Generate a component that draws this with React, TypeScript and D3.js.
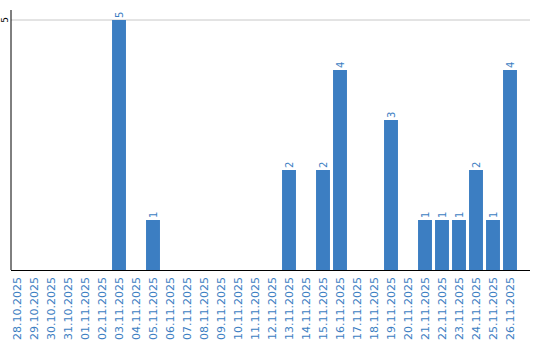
import React from "react";
import * as d3 from "d3";

const dates = [
  "28.10.2025","29.10.2025","30.10.2025","31.10.2025","01.11.2025","02.11.2025",
  "03.11.2025","04.11.2025","05.11.2025","06.11.2025","07.11.2025","08.11.2025",
  "09.11.2025","10.11.2025","11.11.2025","12.11.2025","13.11.2025","14.11.2025",
  "15.11.2025","16.11.2025","17.11.2025","18.11.2025","19.11.2025","20.11.2025",
  "21.11.2025","22.11.2025","23.11.2025","24.11.2025","25.11.2025","26.11.2025",
];
const counts = [0,0,0,0,0,0,5,0,1,0,0,0,0,0,0,0,2,0,2,4,0,0,3,0,1,1,1,2,1,4];
const yTicks = [5];

const W = 540, H = 340;
const axisLeft = 11, axisRight = 530;
const top = 20, bottom = 270;
const blue = "#3c7ec2";
const font = "'DejaVu Sans', Verdana, sans-serif";

export default function App() {
  const x = d3.scaleBand<string>().domain(dates).range([8.5, 518.5]).paddingInner(0.18).paddingOuter(0.09);
  const y = d3.scaleLinear().domain([0, 5]).range([bottom, top]);
  return (
    <svg width={W} height={H} style={{ position: "absolute", left: 0, top: 0 }}>
      <rect width={W} height={H} fill="#fff" />
      {yTicks.map((t) => (
        <g key={t}>
          <line x1={axisLeft} x2={axisRight} y1={y(t)} y2={y(t)} stroke="#c8c8c8" strokeWidth={1} />
          <text transform={`translate(8,${y(t)}) rotate(-90)`} textAnchor="middle" fontSize={9} fontFamily={font} fill="#000">{t}</text>
        </g>
      ))}
      {dates.map((d, i) =>
        counts[i] > 0 ? (
          <g key={d}>
            <rect x={x(d)} y={y(counts[i])} width={x.bandwidth()} height={bottom - y(counts[i])} fill={blue} />
            <text transform={`translate(${(x(d) as number) + x.bandwidth() / 2 + 3.5},${y(counts[i]) - 2}) rotate(-90)`} fontSize={10} fontFamily={font} fill={blue}>{counts[i]}</text>
          </g>
        ) : null
      )}
      <line x1={axisLeft} x2={axisLeft} y1={10} y2={bottom} stroke="#000" strokeWidth={1} />
      <line x1={axisLeft} x2={axisRight} y1={bottom + 0.5} y2={bottom + 0.5} stroke="#000" strokeWidth={1} />
      {dates.map((d) => (
        <text key={d} transform={`translate(${(x(d) as number) + x.bandwidth() / 2 + 4},${bottom + 7}) rotate(-90)`} textAnchor="end" fontSize={11} fontFamily={font} fill={blue}>{d}</text>
      ))}
    </svg>
  );
}
